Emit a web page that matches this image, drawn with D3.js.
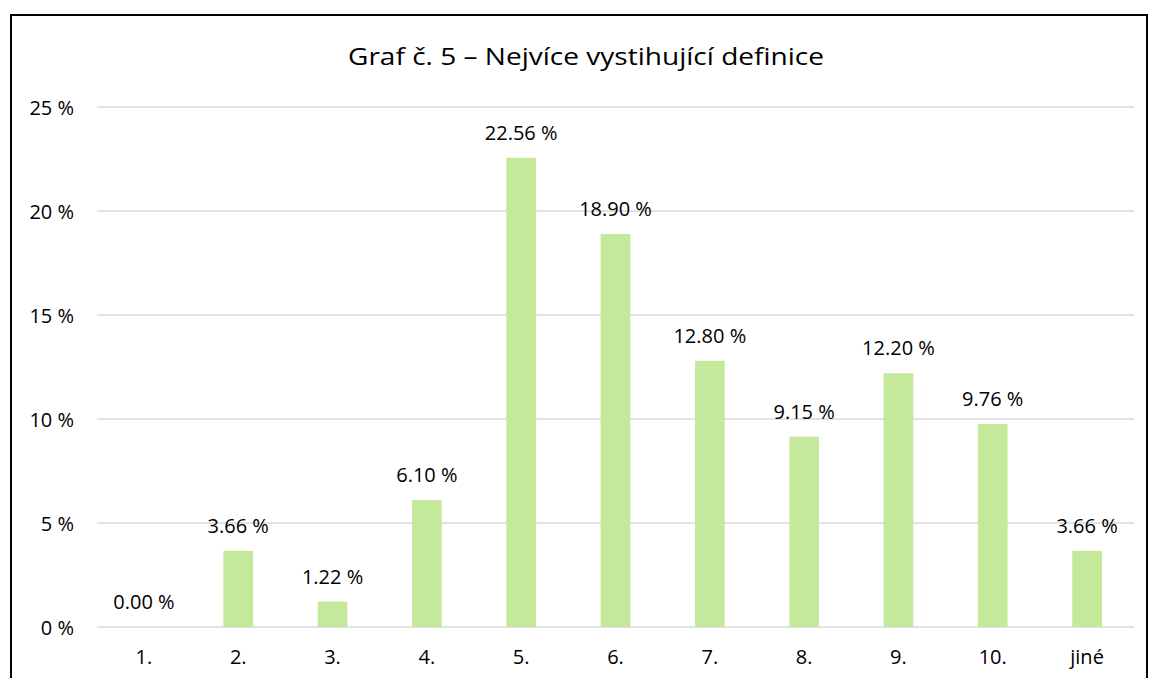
<!DOCTYPE html>
<html>
<head>
<meta charset="UTF-8">
<title>Graf č. 5</title>
<style>
    body { margin: 0; background: white; font-family: "Open Sans", Lato, sans-serif; }
    .grid line { stroke: #d9d9d9; stroke-width: 1.3px; }
    .lbl { font-size: 20px; fill: #000; }
</style>
</head>
<body>
<script src="https://d3js.org/d3.v7.min.js"></script>
<script>
    var categories = ["1.", "2.", "3.", "4.", "5.", "6.", "7.", "8.", "9.", "10.", "jiné"];
    var values = [0.00, 3.66, 1.22, 6.10, 22.56, 18.90, 12.80, 9.15, 12.20, 9.76, 3.66];
    var yTicks = [0, 5, 10, 15, 20, 25];

    var width = 1150, height = 678;
    var plotLeft = 97, plotRight = 1134, plotTop = 107, plotBottom = 627;

    var svg = d3.select("body").append("svg")
        .attr("width", width)
        .attr("height", height);

    // outer frame
    svg.append("rect")
        .attr("x", 11).attr("y", 15)
        .attr("width", 1136).attr("height", 700)
        .attr("fill", "white")
        .attr("stroke", "#000")
        .attr("stroke-width", 2);

    svg.append("text")
        .attr("x", 586).attr("y", 65)
        .attr("text-anchor", "middle")
        .attr("textLength", 476)
        .attr("lengthAdjust", "spacingAndGlyphs")
        .style("font-size", "23.5px")
        .text("Graf č. 5 – Nejvíce vystihující definice");

    var x = d3.scaleBand().domain(categories).range([plotLeft, plotRight]).paddingInner(0.685).paddingOuter(0.34);
    var y = d3.scaleLinear().domain([0, 25]).range([plotBottom, plotTop]);

    var grid = svg.append("g").attr("class", "grid");
    grid.selectAll("line").data(yTicks).enter().append("line")
        .attr("x1", plotLeft).attr("x2", plotRight)
        .attr("y1", function(d) { return y(d); })
        .attr("y2", function(d) { return y(d); });

    svg.selectAll(".ytick").data(yTicks).enter().append("text")
        .attr("class", "lbl ytick")
        .attr("x", 74)
        .attr("y", function(d) { return y(d) + 8; })
        .attr("text-anchor", "end")
        .text(function(d) { return d + " %"; });

    svg.selectAll(".bar").data(values).enter().append("rect")
        .attr("class", "bar")
        .attr("x", function(d, i) { return x(categories[i]); })
        .attr("width", x.bandwidth())
        .attr("y", function(d) { return y(d); })
        .attr("height", function(d) { return plotBottom - y(d); })
        .attr("fill", "#c5e99b");

    svg.selectAll(".vlbl").data(values).enter().append("text")
        .attr("class", "lbl vlbl")
        .attr("x", function(d, i) { return x(categories[i]) + x.bandwidth() / 2; })
        .attr("y", function(d) { return y(d) - 18; })
        .attr("text-anchor", "middle")
        .text(function(d) { return d.toFixed(2) + " %"; });

    svg.selectAll(".xlbl").data(categories).enter().append("text")
        .attr("class", "lbl xlbl")
        .attr("x", function(d) { return x(d) + x.bandwidth() / 2; })
        .attr("y", 664)
        .attr("text-anchor", "middle")
        .text(function(d) { return d; });
</script>
</body>
</html>
